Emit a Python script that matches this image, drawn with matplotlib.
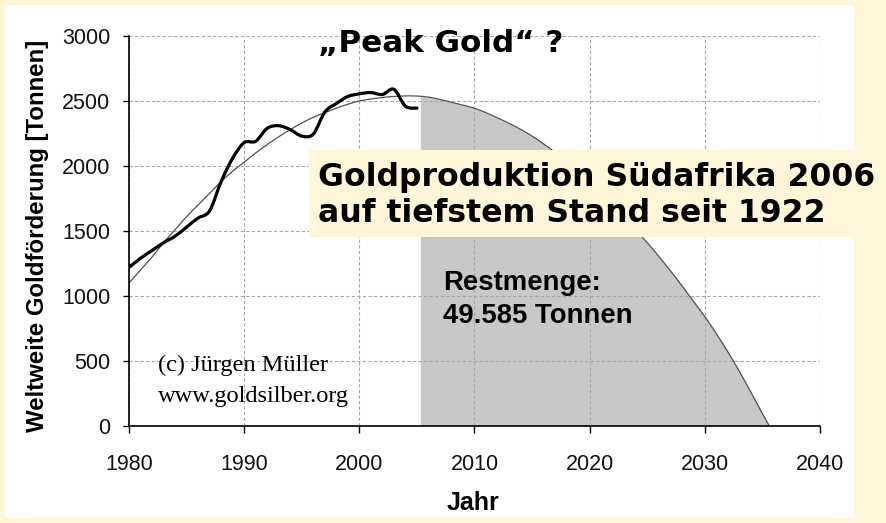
import numpy as np
import matplotlib
matplotlib.use("Agg")
import matplotlib.pyplot as plt
from matplotlib.patches import Rectangle, PathPatch
from matplotlib.path import Path
from matplotlib import font_manager as fm

# ---- data ----
prod_years = [1980, 1981, 1982, 1983, 1984, 1985, 1986, 1987, 1988, 1989, 1990,
              1991, 1992, 1993, 1994, 1995, 1996, 1997, 1998, 1999, 2000, 2001,
              2002, 2003, 2004, 2005]
prod_values = [1220, 1290, 1350, 1410, 1460, 1530, 1600, 1655, 1880, 2060, 2180,
               2190, 2290, 2310, 2280, 2230, 2245, 2415, 2480, 2535, 2555, 2565,
               2550, 2590, 2460, 2445]

fit_years = [1980, 1981, 1982, 1983, 1984, 1985, 1986, 1987, 1988, 1989, 1990,
             1991, 1992, 1993, 1994, 1995, 1996, 1997, 1998, 1999, 2000, 2001,
             2002, 2003, 2004, 2005, 2006, 2007, 2008, 2009, 2010, 2011, 2012,
             2013, 2014, 2015, 2016, 2017, 2018, 2019, 2020, 2021, 2022, 2023,
             2024, 2025, 2026, 2027, 2028, 2029, 2030, 2031, 2032, 2033, 2034,
             2035, 2035.6]
fit_values = [1100, 1200, 1300, 1410, 1510, 1610, 1700, 1790, 1880, 1960, 2030,
              2100, 2165, 2225, 2280, 2330, 2375, 2410, 2445, 2475, 2500, 2515,
              2527, 2535, 2539, 2538, 2530, 2512, 2490, 2468, 2444, 2410, 2370,
              2328, 2282, 2230, 2170, 2105, 2035, 1960, 1880, 1795, 1705, 1610,
              1510, 1410, 1305, 1195, 1080, 960, 841, 710, 570, 420, 260,
              95, 0]

rest_start = 2005.3
x_ticks = [1980, 1990, 2000, 2010, 2020, 2030, 2040]
y_ticks = [0, 500, 1000, 1500, 2000, 2500, 3000]

title = "\u201ePeak Gold\u201c ?"
box_line1 = "Goldproduktion Südafrika 2006"
box_line2 = "auf tiefstem Stand seit 1922"
rest_line1 = "Restmenge:"
rest_line2 = "49.585 Tonnen"
copy_line1 = "(c) Jürgen Müller"
copy_line2 = "www.goldsilber.org"
ylabel = "Weltweite Goldförderung [Tonnen]"
xlabel = "Jahr"


def find_font(name, bold):
    for f in fm.fontManager.ttflist:
        if f.name != name or "Narrow" in f.fname:
            continue
        w = f.weight
        is_bold = (w == "bold") or (isinstance(w, int) and w >= 600)
        if is_bold == bold and f.style == "normal":
            return fm.FontProperties(fname=f.fname)
    return fm.FontProperties(family=name, weight="bold" if bold else "normal")


arial = find_font("Liberation Sans", False)
arial_b = find_font("Liberation Sans", True)


def smooth_path(xs, ys):
    """Cardinal (Catmull-Rom) spline through the points as a Bezier path."""
    p = np.column_stack([xs, ys]).astype(float)
    n = len(p)
    verts = [p[0]]
    codes = [Path.MOVETO]
    for i in range(n - 1):
        p0 = p[i - 1] if i > 0 else p[i]
        p1 = p[i]
        p2 = p[i + 1]
        p3 = p[i + 2] if i + 2 < n else p[i + 1]
        c1 = p1 + (p2 - p0) / 6.0
        c2 = p2 - (p3 - p1) / 6.0
        verts += [c1, c2, p2]
        codes += [Path.CURVE4] * 3
    return Path(verts, codes)


# ---- figure ----
W, H = 887, 523
CREAM = "#FFF5D8"
fig = plt.figure(figsize=(W / 100, H / 100), dpi=100, facecolor=CREAM)


def fx(px):
    return px / W


def fy(py):
    return 1 - py / H


# white panel
fig.patches.append(Rectangle((fx(5), fy(518)), fx(849), 513 / H,
                             transform=fig.transFigure, facecolor="white",
                             edgecolor="none", zorder=-10))

ax = fig.add_axes([fx(129), fy(426), fx(691), 390 / H])
ax.set_facecolor("none")
ax.set_zorder(1)

fy_arr = np.array(fit_years, dtype=float)
fv_arr = np.array(fit_values, dtype=float)
mask = fy_arr > rest_start
fill_x = np.concatenate([[rest_start], fy_arr[mask]])
fill_y = np.concatenate([[np.interp(rest_start, fy_arr, fv_arr)], fv_arr[mask]])
ax.fill_between(fill_x, 0, fill_y, color="#C8C8C8", linewidth=0, zorder=1)

ax.add_patch(PathPatch(smooth_path(fit_years, fit_values), facecolor="none",
                       edgecolor="#505050", linewidth=0.9, zorder=3))
ax.add_patch(PathPatch(smooth_path(prod_years, prod_values), facecolor="none",
                       edgecolor="black", linewidth=2.3, zorder=4,
                       joinstyle="round", capstyle="round"))

ax.set_xlim(1980, 2040)
ax.set_ylim(0, 3000)
ax.set_xticks(x_ticks)
ax.set_yticks(y_ticks)
ax.set_axisbelow(False)
ax.grid(True, color="#A8A8A8", linestyle=(0, (3, 2)), linewidth=0.8, zorder=2)
for s in ("top", "right"):
    ax.spines[s].set_visible(False)
for s in ("left", "bottom"):
    ax.spines[s].set_linewidth(1.2)
    ax.spines[s].set_zorder(5)

ax.tick_params(axis="x", direction="out", length=5, width=1, pad=15.5)
ax.tick_params(axis="y", direction="out", length=4.5, width=1, pad=9)
for lab in ax.get_xticklabels() + ax.get_yticklabels():
    lab.set_fontproperties(arial)
    lab.set_fontsize(15.5)
    lab.set_color("#111111")

# axis labels
fig.text(fx(38), fy(236), ylabel, rotation=90, ha="center", va="center",
         fontproperties=arial_b, fontsize=17.3)
fig.text(fx(473), fy(510), xlabel, ha="center", va="baseline",
         fontproperties=arial_b, fontsize=18)

# title
fig.text(fx(441), fy(52), title, ha="center", va="baseline",
         family="DejaVu Sans", fontweight="bold", fontsize=22.3, zorder=10)

# cream box with text
fig.patches.append(Rectangle((fx(309), fy(237)), fx(887 - 309), 87 / H,
                             transform=fig.transFigure, facecolor=CREAM,
                             edgecolor="none", zorder=8))
fig.text(fx(318), fy(186.5), box_line1, ha="left", va="baseline",
         family="DejaVu Sans", fontweight="bold", fontsize=22.7, zorder=10)
fig.text(fx(318), fy(221.5), box_line2, ha="left", va="baseline",
         family="DejaVu Sans", fontweight="bold", fontsize=22.7, zorder=10)

# Restmenge text
fig.text(fx(443), fy(290), rest_line1, ha="left", va="baseline",
         fontproperties=arial_b, fontsize=19.8, zorder=10)
fig.text(fx(443), fy(322.7), rest_line2, ha="left", va="baseline",
         fontproperties=arial_b, fontsize=19.8, zorder=10)

# copyright
fig.text(fx(158), fy(371.5), copy_line1, ha="left", va="baseline",
         family="Liberation Serif", fontsize=17.6, zorder=10)
fig.text(fx(158), fy(402), copy_line2, ha="left", va="baseline",
         family="Liberation Serif", fontsize=17.6, zorder=10)

fig.savefig("out.png", dpi=100, facecolor=CREAM)
